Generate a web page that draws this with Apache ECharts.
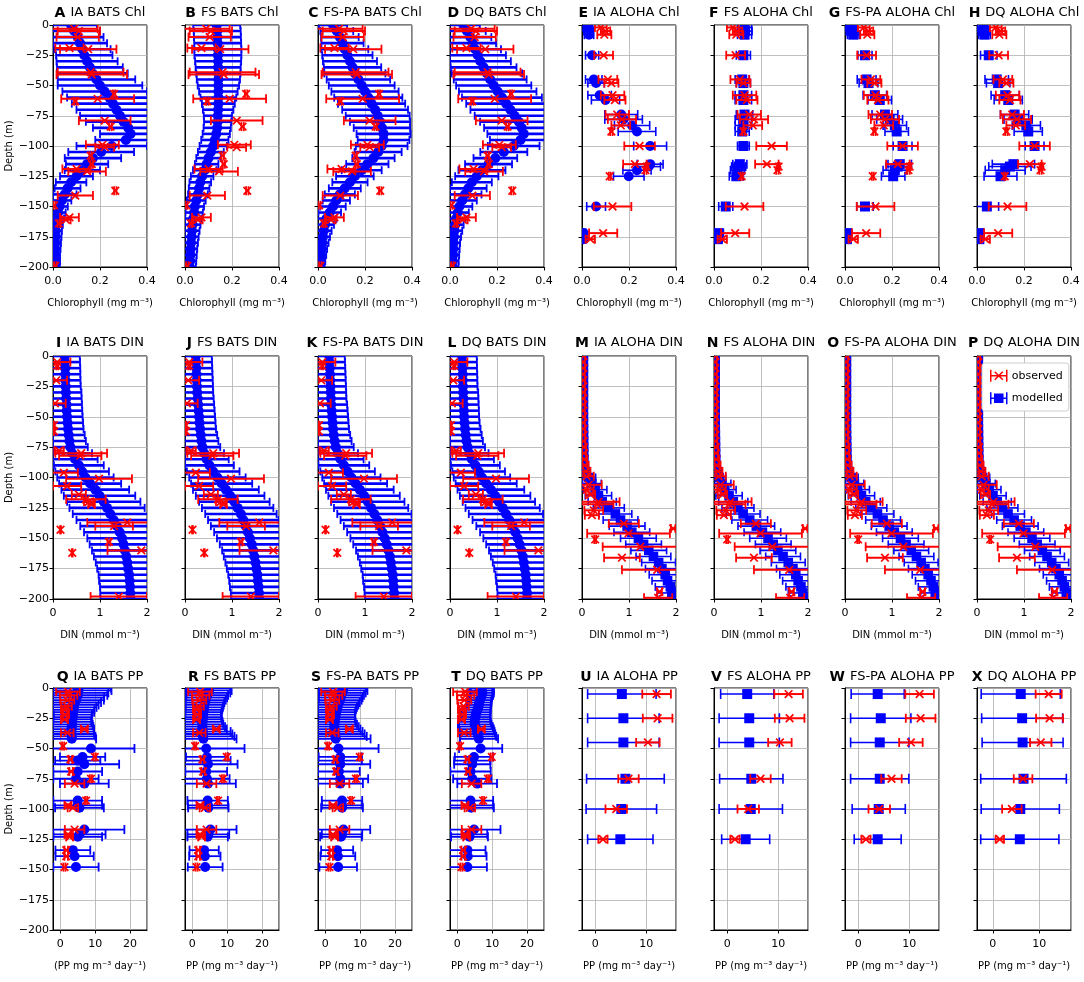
<!DOCTYPE html>
<html><head><meta charset="utf-8">
<script src="https://cdn.jsdelivr.net/npm/echarts@6/dist/echarts.min.js"></script>
<style>html,body{margin:0;padding:0;background:#fff}#c{width:1084px;height:982px}</style>
</head><body><div id="c"></div><script>
// ---------------- DATA ----------------
const DEPTH_5M = [0,-5,-10,-15,-20,-25,-30,-35,-40,-45,-50,-55,-60,-65,-70,-75,-80,-85,-90,-95,-100,-105,-110,-115,-120,-125,-130,-135,-140,-145,-150,-155,-160,-165,-170,-175,-180,-185,-190,-195,-200];

// BATS chlorophyll observed
const BATS_CHL_OBS_DEPTH = [-3,-5,-10,-19,-20,-39,-41,-57,-61,-63,-79,-84,-99,-101,-108,-115,-119,-121,-137,-141,-149,-159,-161,-164,-199];
const BATS_CHL_OBS_MEAN  = [0.09,0.11,0.105,0.07,0.15,0.16,0.165,0.26,0.19,0.095,0.22,0.245,0.21,0.22,0.16,0.165,0.10,0.145,0.265,0.095,0.005,0.07,0.055,0.025,0.01];
const BATS_CHL_OBS_ERR   = [0.1,0.09,0.09,0.06,0.12,0.14,0.15,0.005,0.155,0.005,0.11,0.005,0.07,0.04,0.005,0.005,0.06,0.08,0.005,0.075,0.005,0.04,0.02,0.005,0.005];
// BATS chlorophyll modelled
const IA_BATS_CHL_MEAN = [0.077,0.09,0.105,0.115,0.125,0.133,0.145,0.157,0.168,0.185,0.2,0.22,0.24,0.255,0.27,0.285,0.3,0.32,0.33,0.31,0.25,0.205,0.17,0.145,0.125,0.1,0.077,0.062,0.05,0.038,0.028,0.022,0.017,0.014,0.012,0.011,0.01,0.009,0.008,0.008,0.007];
const IA_BATS_CHL_SD   = [0.11,0.11,0.11,0.115,0.12,0.12,0.13,0.14,0.15,0.165,0.18,0.18,0.18,0.175,0.17,0.17,0.16,0.15,0.13,0.13,0.15,0.14,0.12,0.09,0.075,0.07,0.065,0.055,0.05,0.04,0.035,0.032,0.03,0.028,0.026,0.025,0.024,0.023,0.022,0.022,0.022];
const FS_BATS_CHL_MEAN = [0.135,0.137,0.138,0.139,0.14,0.14,0.141,0.141,0.142,0.142,0.142,0.142,0.142,0.142,0.141,0.14,0.139,0.137,0.133,0.127,0.12,0.11,0.1,0.092,0.084,0.073,0.065,0.06,0.055,0.048,0.042,0.039,0.035,0.032,0.03,0.028,0.026,0.024,0.023,0.022,0.021];
const FS_BATS_CHL_SD   = [0.1,0.1,0.1,0.1,0.1,0.1,0.098,0.096,0.094,0.092,0.088,0.082,0.076,0.07,0.065,0.06,0.058,0.058,0.058,0.058,0.058,0.055,0.052,0.05,0.05,0.048,0.046,0.044,0.042,0.04,0.039,0.037,0.035,0.034,0.032,0.03,0.029,0.028,0.027,0.026,0.025];
const FSPA_BATS_CHL_MEAN = [0.064,0.08,0.093,0.104,0.114,0.125,0.136,0.147,0.157,0.172,0.186,0.2,0.214,0.228,0.243,0.254,0.264,0.272,0.279,0.279,0.271,0.256,0.236,0.21,0.186,0.157,0.136,0.114,0.093,0.078,0.064,0.05,0.036,0.03,0.025,0.021,0.018,0.015,0.013,0.011,0.01];
const FSPA_BATS_CHL_SD   = [0.06,0.07,0.08,0.09,0.1,0.107,0.115,0.122,0.13,0.135,0.14,0.143,0.145,0.143,0.14,0.136,0.128,0.12,0.115,0.11,0.11,0.1,0.09,0.09,0.085,0.08,0.075,0.068,0.064,0.058,0.054,0.048,0.043,0.038,0.033,0.03,0.027,0.024,0.022,0.02,0.018];
const DQ_BATS_CHL_MEAN = [0.057,0.072,0.086,0.096,0.107,0.118,0.129,0.143,0.157,0.171,0.186,0.203,0.221,0.239,0.257,0.275,0.293,0.305,0.314,0.3,0.271,0.229,0.193,0.164,0.136,0.114,0.093,0.078,0.064,0.052,0.04,0.033,0.026,0.022,0.019,0.017,0.015,0.014,0.013,0.012,0.011];
const DQ_BATS_CHL_SD   = [0.07,0.08,0.09,0.1,0.11,0.12,0.13,0.14,0.15,0.155,0.16,0.165,0.17,0.17,0.17,0.17,0.165,0.16,0.155,0.13,0.11,0.1,0.093,0.1,0.1,0.092,0.085,0.078,0.07,0.062,0.055,0.047,0.04,0.036,0.033,0.03,0.028,0.027,0.026,0.025,0.025];

// ALOHA chlorophyll (observed and modelled at the same depths)
const ALOHA_CHL_DEPTH    = [-2,-5,-8,-25,-45,-48,-58,-62,-74,-78,-83,-88,-100,-115,-117,-120,-125,-150,-172,-177];
const ALOHA_CHL_OBS_MEAN = [0.08,0.1,0.095,0.092,0.11,0.125,0.13,0.14,0.15,0.17,0.165,0.125,0.245,0.225,0.275,0.27,0.118,0.13,0.09,0.035];
const ALOHA_CHL_OBS_ERR  = [0.025,0.02,0.03,0.04,0.04,0.03,0.05,0.045,0.05,0.06,0.04,0.005,0.065,0.05,0.005,0.005,0.004,0.08,0.06,0.02];
const IA_ALOHA_CHL_MEAN  = [0.025,0.028,0.03,0.043,0.05,0.06,0.075,0.1,0.167,0.177,0.213,0.234,0.29,0.29,0.284,0.234,0.199,0.06,0.007,0.007];
const IA_ALOHA_CHL_SD    = [0.02,0.02,0.02,0.028,0.035,0.035,0.05,0.06,0.07,0.08,0.075,0.08,0.07,0.055,0.05,0.06,0.065,0.04,0.01,0.01];
const FS_ALOHA_CHL_MEAN  = [0.13,0.132,0.13,0.125,0.12,0.125,0.125,0.125,0.13,0.125,0.125,0.12,0.125,0.11,0.105,0.1,0.095,0.05,0.02,0.015];
const FS_ALOHA_CHL_SD    = [0.03,0.03,0.03,0.03,0.03,0.03,0.035,0.035,0.035,0.035,0.035,0.03,0.025,0.03,0.03,0.03,0.03,0.03,0.02,0.02];
const FSPA_ALOHA_CHL_MEAN= [0.025,0.03,0.035,0.085,0.092,0.1,0.127,0.148,0.17,0.19,0.212,0.22,0.245,0.233,0.225,0.212,0.205,0.085,0.01,0.008];
const FSPA_ALOHA_CHL_SD  = [0.025,0.025,0.025,0.03,0.04,0.04,0.05,0.05,0.055,0.055,0.05,0.05,0.04,0.05,0.05,0.05,0.05,0.035,0.015,0.015];
const DQ_ALOHA_CHL_MEAN  = [0.028,0.03,0.032,0.05,0.084,0.09,0.12,0.133,0.16,0.175,0.21,0.218,0.245,0.155,0.14,0.12,0.1,0.042,0.011,0.01];
const DQ_ALOHA_CHL_SD    = [0.025,0.025,0.025,0.035,0.05,0.05,0.06,0.06,0.06,0.06,0.06,0.06,0.04,0.09,0.09,0.085,0.07,0.05,0.015,0.015];

// BATS DIN observed
const BATS_DIN_OBS_DEPTH = [-5,-8,-20,-39,-57,-62,-78,-80,-82,-96,-101,-107,-114,-118,-120,-122,-137,-140,-143,-153,-160,-162,-198];
const BATS_DIN_OBS_MEAN  = [0.09,0.09,0.07,0.04,0.02,0.02,0.13,0.6,0.58,0.23,0.98,0.3,0.55,0.7,0.76,0.82,1.58,1.3,0.16,1.19,1.88,0.41,1.4];
const BATS_DIN_OBS_ERR   = [0.28,0.02,0.23,0.23,0.01,0.01,0.1,0.55,0.45,0.3,0.7,0.3,0.15,0.42,0.1,0.07,0.85,0.4,0.01,0.03,0.72,0.01,0.6];
// BATS DIN modelled
const IA_BATS_DIN_MEAN = [0.25,0.255,0.26,0.262,0.265,0.27,0.275,0.28,0.287,0.293,0.3,0.31,0.32,0.335,0.35,0.37,0.41,0.47,0.55,0.62,0.69,0.79,0.9,0.99,1.08,1.15,1.22,1.29,1.36,1.42,1.47,1.5,1.53,1.56,1.58,1.6,1.62,1.63,1.64,1.645,1.65];
const IA_BATS_DIN_SD   = [0.32,0.32,0.32,0.32,0.32,0.32,0.33,0.33,0.33,0.33,0.33,0.33,0.33,0.34,0.35,0.37,0.42,0.48,0.53,0.57,0.6,0.66,0.72,0.76,0.78,0.8,0.8,0.79,0.78,0.76,0.74,0.72,0.7,0.69,0.67,0.66,0.65,0.65,0.64,0.64,0.64];
const FS_BATS_DIN_MEAN = [0.23,0.235,0.24,0.245,0.25,0.255,0.26,0.27,0.28,0.29,0.3,0.31,0.32,0.335,0.35,0.37,0.41,0.46,0.52,0.6,0.69,0.78,0.87,0.96,1.05,1.12,1.19,1.24,1.29,1.34,1.38,1.42,1.45,1.475,1.5,1.52,1.54,1.55,1.565,1.575,1.58];
const FS_BATS_DIN_SD   = [0.34,0.34,0.34,0.34,0.34,0.34,0.34,0.34,0.34,0.34,0.34,0.34,0.34,0.35,0.36,0.38,0.42,0.47,0.52,0.56,0.6,0.65,0.7,0.73,0.75,0.76,0.76,0.75,0.74,0.72,0.7,0.68,0.66,0.65,0.64,0.63,0.62,0.61,0.61,0.6,0.6];
const FSPA_BATS_DIN_MEAN = [0.24,0.245,0.25,0.255,0.26,0.265,0.27,0.275,0.28,0.29,0.3,0.31,0.32,0.335,0.355,0.38,0.42,0.48,0.55,0.63,0.71,0.8,0.89,0.98,1.06,1.13,1.2,1.26,1.32,1.37,1.42,1.46,1.5,1.53,1.55,1.57,1.59,1.6,1.61,1.62,1.63];
const FSPA_BATS_DIN_SD   = [0.33,0.33,0.33,0.33,0.33,0.33,0.33,0.33,0.34,0.34,0.34,0.34,0.34,0.35,0.36,0.38,0.43,0.49,0.54,0.58,0.62,0.67,0.72,0.76,0.78,0.79,0.79,0.78,0.77,0.75,0.73,0.71,0.69,0.68,0.66,0.65,0.64,0.64,0.63,0.63,0.63];
const DQ_BATS_DIN_MEAN = [0.26,0.262,0.265,0.27,0.272,0.275,0.28,0.285,0.29,0.295,0.3,0.31,0.32,0.335,0.35,0.375,0.41,0.465,0.54,0.61,0.68,0.77,0.87,0.96,1.04,1.12,1.19,1.26,1.33,1.39,1.44,1.48,1.52,1.55,1.57,1.59,1.61,1.62,1.63,1.64,1.64];
const DQ_BATS_DIN_SD   = [0.31,0.31,0.31,0.31,0.31,0.31,0.32,0.32,0.32,0.32,0.32,0.32,0.33,0.34,0.35,0.37,0.41,0.47,0.52,0.56,0.6,0.65,0.71,0.75,0.77,0.79,0.79,0.78,0.77,0.75,0.73,0.71,0.69,0.68,0.66,0.65,0.64,0.64,0.63,0.63,0.63];

// ALOHA DIN observed
const ALOHA_DIN_OBS_DEPTH = [0,-5,-10,-15,-20,-25,-30,-35,-40,-45,-50,-55,-60,-65,-70,-75,-80,-85,-90,-95,-99,-106,-110,-114,-120,-122,-127,-131,-138,-142,-146,-151,-157,-166,-176,-194,-199];
const ALOHA_DIN_OBS_MEAN  = [0.03,0.02,0.03,0.02,0.03,0.02,0.03,0.02,0.03,0.02,0.03,0.02,0.03,0.03,0.03,0.04,0.04,0.05,0.06,0.08,0.1,0.14,0.1,0.18,0.35,0.32,0.25,0.21,0.89,1.94,0.99,0.28,1.24,0.85,1.6,1.65,1.62];
const ALOHA_DIN_OBS_ERR   = [0.04,0.04,0.04,0.04,0.04,0.04,0.04,0.04,0.04,0.04,0.04,0.04,0.04,0.04,0.04,0.05,0.05,0.06,0.08,0.1,0.15,0.28,0.15,0.1,0.45,0.35,0.2,0.15,0.32,0.05,0.88,0.02,0.8,0.38,0.75,0.05,0.3];
// ALOHA DIN modelled
const IA_ALOHA_DIN_MEAN = [0.03,0.03,0.03,0.03,0.03,0.03,0.03,0.03,0.03,0.03,0.03,0.03,0.032,0.033,0.035,0.035,0.037,0.04,0.05,0.07,0.14,0.21,0.28,0.35,0.43,0.57,0.71,0.82,0.96,1.06,1.2,1.31,1.42,1.52,1.63,1.7,1.77,1.82,1.88,1.91,1.95];
const IA_ALOHA_DIN_SD   = [0.03,0.03,0.03,0.03,0.03,0.03,0.03,0.03,0.03,0.03,0.03,0.03,0.03,0.03,0.03,0.03,0.03,0.05,0.07,0.1,0.15,0.2,0.25,0.28,0.3,0.33,0.35,0.37,0.38,0.38,0.38,0.38,0.38,0.37,0.36,0.35,0.34,0.33,0.32,0.31,0.3];
const FS_ALOHA_DIN_MEAN = [0.025,0.025,0.025,0.025,0.025,0.025,0.025,0.025,0.025,0.025,0.025,0.025,0.027,0.028,0.03,0.031,0.033,0.037,0.045,0.065,0.11,0.17,0.23,0.32,0.41,0.51,0.62,0.76,0.9,1.03,1.15,1.26,1.36,1.47,1.58,1.68,1.74,1.79,1.85,1.89,1.93];
const FS_ALOHA_DIN_SD   = [0.03,0.03,0.03,0.03,0.03,0.03,0.03,0.03,0.03,0.03,0.03,0.03,0.03,0.03,0.03,0.03,0.03,0.04,0.06,0.09,0.14,0.19,0.24,0.28,0.31,0.34,0.36,0.38,0.39,0.39,0.39,0.38,0.38,0.37,0.36,0.35,0.34,0.33,0.32,0.31,0.3];
const FSPA_ALOHA_DIN_MEAN = [0.03,0.03,0.03,0.03,0.03,0.03,0.03,0.03,0.03,0.03,0.03,0.03,0.031,0.032,0.034,0.036,0.038,0.042,0.052,0.075,0.13,0.2,0.27,0.35,0.44,0.56,0.69,0.81,0.94,1.05,1.18,1.3,1.41,1.52,1.62,1.7,1.77,1.83,1.88,1.92,1.96];
const FSPA_ALOHA_DIN_SD   = [0.03,0.03,0.03,0.03,0.03,0.03,0.03,0.03,0.03,0.03,0.03,0.03,0.03,0.03,0.03,0.03,0.03,0.05,0.07,0.1,0.15,0.2,0.25,0.28,0.31,0.33,0.35,0.37,0.38,0.38,0.38,0.38,0.37,0.37,0.36,0.35,0.34,0.33,0.32,0.31,0.3];
const DQ_ALOHA_DIN_MEAN = [0.028,0.028,0.028,0.028,0.028,0.028,0.028,0.028,0.028,0.028,0.028,0.028,0.03,0.031,0.033,0.034,0.036,0.04,0.048,0.07,0.12,0.19,0.26,0.34,0.43,0.54,0.66,0.79,0.92,1.04,1.17,1.28,1.39,1.49,1.59,1.68,1.75,1.81,1.86,1.9,1.94];
const DQ_ALOHA_DIN_SD   = [0.03,0.03,0.03,0.03,0.03,0.03,0.03,0.03,0.03,0.03,0.03,0.03,0.03,0.03,0.03,0.03,0.03,0.05,0.07,0.1,0.15,0.2,0.25,0.28,0.3,0.33,0.35,0.37,0.38,0.38,0.38,0.38,0.38,0.37,0.36,0.35,0.34,0.33,0.32,0.31,0.3];

// BATS primary production observed
const BATS_PP_OBS_DEPTH = [-3,-6,-10,-15,-18,-22,-26,-34,-37,-48,-57,-59,-69,-75,-79,-93,-97,-99,-117,-121,-123,-134,-139,-148];
const BATS_PP_OBS_MEAN  = [2.2,2.4,2.0,1.8,1.2,1.5,1.2,6.9,2.0,0.8,9.9,2.9,3.1,8.8,4.1,7.4,2.2,3.6,4.1,2.2,2.7,1.7,1.7,1.2];
const BATS_PP_OBS_ERR   = [3.4,2.5,2.0,1.5,1.0,1.0,1.0,1.0,1.8,0.3,0.3,0.5,0.5,0.3,2.8,0.3,1.0,1.5,2.8,1.0,1.0,0.5,0.5,0.3];
// BATS primary production modelled
const BATS_PP_MODEL_DEPTH = [0,-2,-4,-6,-8,-10,-12,-14,-16,-18,-20,-22,-24,-26,-28,-30,-32,-34,-36,-38,-40,-42,-50,-57,-60,-63,-69,-75,-79,-93,-97,-99,-117,-121,-123,-134,-139,-148];
const IA_BATS_PP_MEAN = [5.0,5.2,4.8,5.0,4.6,4.5,4.2,4.0,3.9,3.8,3.7,3.6,3.5,3.5,3.4,3.3,3.3,3.2,3.2,3.2,3.3,3.3,8.8,6.4,5.0,6.9,5.0,4.5,6.9,5.0,5.0,5.5,6.9,5.5,5.0,3.6,4.1,4.5];
const IA_BATS_PP_SD   = [9.5,9.5,9.0,8.5,8.0,8.0,7.5,7.0,6.5,6.0,6.0,5.5,5.5,5.5,5.5,6.0,6.2,6.5,6.5,6.5,6.8,7.0,12.5,6.5,6.5,10.0,7.0,6.5,7.0,7.0,7.0,7.0,11.5,7.5,7.0,5.0,5.5,6.5];
const FS_BATS_PP_MEAN = [4.5,4.8,4.6,4.3,4.0,3.8,3.6,3.5,3.4,3.3,3.2,3.1,3.0,3.0,2.9,2.9,2.9,2.9,3.0,3.0,3.1,3.2,4.0,4.2,4.0,4.5,4.0,4.2,4.5,4.4,4.5,4.6,5.2,4.6,4.4,3.4,3.6,3.7];
const FS_BATS_PP_SD   = [6.5,6.5,6.3,6.0,6.0,5.8,5.6,5.5,5.4,5.3,5.2,5.2,5.3,5.5,5.8,6.0,6.5,7.0,8.0,8.5,9.0,9.5,11.0,6.0,7.0,8.5,6.0,6.5,8.0,5.8,5.8,5.8,7.5,6.0,5.8,4.2,4.5,5.0];
const FSPA_BATS_PP_MEAN = [4.9,5.1,4.8,4.6,4.4,4.2,3.9,3.7,3.5,3.3,3.1,3.0,2.9,2.8,2.7,2.6,2.6,2.6,2.7,2.8,2.9,3.0,3.8,4.3,4.0,4.3,3.9,4.3,4.3,4.8,4.8,4.8,5.2,4.8,4.5,3.4,3.6,3.7];
const FSPA_BATS_PP_SD   = [7.0,7.0,6.8,6.5,6.3,6.2,6.0,5.8,5.6,5.5,5.5,5.5,5.6,5.8,6.0,6.5,7.0,7.5,8.0,8.5,9.0,10.0,11.5,6.2,6.5,8.6,6.0,8.0,6.5,5.8,5.8,6.0,7.7,5.8,6.0,4.6,5.0,5.4];
const DQ_BATS_PP_MEAN = [6.5,7.0,7.2,7.0,6.8,6.5,6.3,6.2,6.0,5.8,5.5,5.3,5.2,5.0,5.0,5.0,5.2,5.5,5.7,5.9,6.0,6.2,6.7,4.8,4.3,4.3,3.8,4.3,5.7,3.8,3.8,4.0,4.8,3.3,3.5,2.9,3.0,2.9];
const DQ_BATS_PP_SD   = [3.5,3.5,3.3,3.3,3.2,3.3,3.5,3.5,3.6,3.8,4.0,4.2,4.3,4.5,4.6,4.8,5.0,5.0,5.0,5.0,5.2,5.5,6.2,5.5,5.2,5.2,5.8,5.5,5.7,6.5,6.5,6.5,7.6,5.3,5.3,5.2,5.4,5.6];

// ALOHA primary production
const ALOHA_PP_DEPTH    = [-5,-25,-45,-75,-100,-125];
const ALOHA_PP_OBS_MEAN = [12.0,12.2,10.3,6.5,4.1,1.5];
const ALOHA_PP_OBS_ERR  = [2.8,2.9,2.3,2.0,2.1,0.9];
const IA_ALOHA_PP_MEAN  = [5.2,5.5,5.5,5.9,5.1,4.9];
const IA_ALOHA_PP_SD    = [6.7,7.0,7.0,7.6,6.9,6.4];
const FS_ALOHA_PP_MEAN  = [3.9,4.3,4.3,4.7,4.6,3.6];
const FS_ALOHA_PP_SD    = [5.2,5.9,5.9,6.2,6.2,4.7];
const FSPA_ALOHA_PP_MEAN= [3.8,4.4,4.2,4.2,4.0,3.8];
const FSPA_ALOHA_PP_SD  = [5.2,5.9,5.7,5.7,5.2,4.6];
const DQ_ALOHA_PP_MEAN  = [6.0,6.3,6.4,6.6,5.9,5.8];
const DQ_ALOHA_PP_SD    = [8.5,8.7,8.7,9.2,8.4,8.4];

const DEPTH_TICKS = {min:-200, max:0, interval:25};

// ---------------- LAYOUT / STYLE ----------------
const FONT = 'DejaVu Sans';
const ROW_TOP = [25, 356, 688];
const ROW_H = [242, 243, 242];
const TITLE_TOP = [4, 334, 668];
const COL_LEFT = [53, 185, 318, 450, 582, 714, 845, 977];
const COL_W = 94;
const RED = '#ff0000', BLUE = '#0000ff';

const OBS = {
  bchl: [BATS_CHL_OBS_DEPTH, BATS_CHL_OBS_MEAN, BATS_CHL_OBS_ERR],
  achl: [ALOHA_CHL_DEPTH, ALOHA_CHL_OBS_MEAN, ALOHA_CHL_OBS_ERR],
  bdin: [BATS_DIN_OBS_DEPTH, BATS_DIN_OBS_MEAN, BATS_DIN_OBS_ERR],
  adin: [ALOHA_DIN_OBS_DEPTH, ALOHA_DIN_OBS_MEAN, ALOHA_DIN_OBS_ERR],
  bpp: [BATS_PP_OBS_DEPTH, BATS_PP_OBS_MEAN, BATS_PP_OBS_ERR],
  app: [ALOHA_PP_DEPTH, ALOHA_PP_OBS_MEAN, ALOHA_PP_OBS_ERR]
};
const SUP3 = '\u207B\u00B3', SUP1 = '\u207B\u00B9';
const AX = {
  chl: {min:0, max:0.4, interval:0.2, name:'Chlorophyll (mg m' + SUP3 + ')', fmt: v => v.toFixed(1)},
  din: {min:0, max:2, interval:1, name:'DIN (mmol m' + SUP3 + ')', fmt: v => String(v)},
  bpp: {min:-2.1, max:24.9, step:10, name:'PP (mg m' + SUP3 + ' day' + SUP1 + ')', fmt: v => String(v)},
  app: {min:-2.6, max:15.8, step:10, name:'PP (mg m' + SUP3 + ' day' + SUP1 + ')', fmt: v => String(v)},
  appx:{min:-3.4, max:16.8, step:10, name:'PP (mg m' + SUP3 + ' day' + SUP1 + ')', fmt: v => String(v)}
};

// letter, title, row, col, x-axis kind, observed set, model depth, model mean, model sd, marker, band
const P = [
  ['A','IA BATS Chl',0,0,'chl','bchl',DEPTH_5M,IA_BATS_CHL_MEAN,IA_BATS_CHL_SD,'circle','band'],
  ['B','FS BATS Chl',0,1,'chl','bchl',DEPTH_5M,FS_BATS_CHL_MEAN,FS_BATS_CHL_SD,'circle','band'],
  ['C','FS-PA BATS Chl',0,2,'chl','bchl',DEPTH_5M,FSPA_BATS_CHL_MEAN,FSPA_BATS_CHL_SD,'circle','band'],
  ['D','DQ BATS Chl',0,3,'chl','bchl',DEPTH_5M,DQ_BATS_CHL_MEAN,DQ_BATS_CHL_SD,'circle','band'],
  ['E','IA ALOHA Chl',0,4,'chl','achl',ALOHA_CHL_DEPTH,IA_ALOHA_CHL_MEAN,IA_ALOHA_CHL_SD,'circle','pts'],
  ['F','FS ALOHA Chl',0,5,'chl','achl',ALOHA_CHL_DEPTH,FS_ALOHA_CHL_MEAN,FS_ALOHA_CHL_SD,'square','pts'],
  ['G','FS-PA ALOHA Chl',0,6,'chl','achl',ALOHA_CHL_DEPTH,FSPA_ALOHA_CHL_MEAN,FSPA_ALOHA_CHL_SD,'square','pts'],
  ['H','DQ ALOHA Chl',0,7,'chl','achl',ALOHA_CHL_DEPTH,DQ_ALOHA_CHL_MEAN,DQ_ALOHA_CHL_SD,'square','pts'],
  ['I','IA BATS DIN',1,0,'din','bdin',DEPTH_5M,IA_BATS_DIN_MEAN,IA_BATS_DIN_SD,'circle','band'],
  ['J','FS BATS DIN',1,1,'din','bdin',DEPTH_5M,FS_BATS_DIN_MEAN,FS_BATS_DIN_SD,'circle','band'],
  ['K','FS-PA BATS DIN',1,2,'din','bdin',DEPTH_5M,FSPA_BATS_DIN_MEAN,FSPA_BATS_DIN_SD,'circle','band'],
  ['L','DQ BATS DIN',1,3,'din','bdin',DEPTH_5M,DQ_BATS_DIN_MEAN,DQ_BATS_DIN_SD,'circle','band'],
  ['M','IA ALOHA DIN',1,4,'din','adin',DEPTH_5M,IA_ALOHA_DIN_MEAN,IA_ALOHA_DIN_SD,'square','dense'],
  ['N','FS ALOHA DIN',1,5,'din','adin',DEPTH_5M,FS_ALOHA_DIN_MEAN,FS_ALOHA_DIN_SD,'square','dense'],
  ['O','FS-PA ALOHA DIN',1,6,'din','adin',DEPTH_5M,FSPA_ALOHA_DIN_MEAN,FSPA_ALOHA_DIN_SD,'square','dense'],
  ['P','DQ ALOHA DIN',1,7,'din','adin',DEPTH_5M,DQ_ALOHA_DIN_MEAN,DQ_ALOHA_DIN_SD,'square','dense'],
  ['Q','IA BATS PP',2,0,'bpp','bpp',BATS_PP_MODEL_DEPTH,IA_BATS_PP_MEAN,IA_BATS_PP_SD,'circle','bpp'],
  ['R','FS BATS PP',2,1,'bpp','bpp',BATS_PP_MODEL_DEPTH,FS_BATS_PP_MEAN,FS_BATS_PP_SD,'circle','bpp'],
  ['S','FS-PA BATS PP',2,2,'bpp','bpp',BATS_PP_MODEL_DEPTH,FSPA_BATS_PP_MEAN,FSPA_BATS_PP_SD,'circle','bpp'],
  ['T','DQ BATS PP',2,3,'bpp','bpp',BATS_PP_MODEL_DEPTH,DQ_BATS_PP_MEAN,DQ_BATS_PP_SD,'circle','bpp'],
  ['U','IA ALOHA PP',2,4,'app','app',ALOHA_PP_DEPTH,IA_ALOHA_PP_MEAN,IA_ALOHA_PP_SD,'square','app'],
  ['V','FS ALOHA PP',2,5,'app','app',ALOHA_PP_DEPTH,FS_ALOHA_PP_MEAN,FS_ALOHA_PP_SD,'square','app'],
  ['W','FS-PA ALOHA PP',2,6,'app','app',ALOHA_PP_DEPTH,FSPA_ALOHA_PP_MEAN,FSPA_ALOHA_PP_SD,'square','app'],
  ['X','DQ ALOHA PP',2,7,'appx','app',ALOHA_PP_DEPTH,DQ_ALOHA_PP_MEAN,DQ_ALOHA_PP_SD,'square','app']
];

const OBS_STYLE = {color:RED, lw:2, cap:4.5, mk:'x', size:3.8, mlw:1.7};
const MOD_STYLES = {
  band:  {lw:2.6, cap:4, size:5},
  pts:   {lw:1.6, cap:4.5, size:5},
  dense: {lw:1.6, cap:4, size:4.8},
  bpp:   {lw:1.8, cap:4.5, size:5},
  app:   {lw:1.6, cap:5, size:5}
};

function errSeries(name, gi, depth, mean, err, st) {
  const data = depth.map((d, i) => [mean[i], d, err[i]]);
  return {
    type: 'custom', name, xAxisIndex: gi, yAxisIndex: gi, data, clip: true, silent: true,
    itemStyle: {color: st.color}, encode: {x: 0, y: 1},
    renderItem(params, api) {
      const cs = params.coordSys;
      const m = api.value(0), d = api.value(1), e = api.value(2);
      const c = api.coord([m, d]), l = api.coord([m - e, d]), r = api.coord([m + e, d]);
      const x0 = cs.x, x1 = cs.x + cs.width, y0 = cs.y, y1 = cs.y + cs.height;
      const y = c[1];
      const ch = [];
      const ls = {stroke: st.color, lineWidth: st.lw, fill: null};
      const lx = Math.max(l[0], x0), rx = Math.min(r[0], x1);
      if (rx > lx) ch.push({type: 'line', shape: {x1: lx, y1: y, x2: rx, y2: y}, style: ls});
      const ct = Math.max(y - st.cap, y0), cb = Math.min(y + st.cap, y1);
      const cs2 = {stroke: st.color, lineWidth: Math.min(st.lw, 1.8), fill: null};
      [l[0], r[0]].forEach(px => {
        if (px >= x0 - 0.5 && px <= x1 + 0.5) ch.push({type: 'line', shape: {x1: px, y1: ct, x2: px, y2: cb}, style: cs2});
      });
      const s = st.size, cx = c[0];
      if (cx >= x0 - s && cx <= x1 + s) {
        if (st.mk === 'x') {
          const ms = {stroke: st.color, lineWidth: st.mlw, fill: null};
          ch.push({type: 'line', shape: {x1: cx - s, y1: y - s, x2: cx + s, y2: y + s}, style: ms});
          ch.push({type: 'line', shape: {x1: cx - s, y1: y + s, x2: cx + s, y2: y - s}, style: ms});
        } else if (st.mk === 'circle') {
          ch.push({type: 'circle', shape: {cx, cy: y, r: s}, style: {fill: st.color}});
        } else {
          ch.push({type: 'rect', shape: {x: cx - s, y: y - s, width: 2 * s, height: 2 * s}, style: {fill: st.color}});
        }
      }
      return {type: 'group', children: ch};
    }
  };
}

const grid = [], xAxis = [], yAxis = [], series = [], title = [];
const minus = v => (v < 0 ? '\u2212' + String(-v) : String(v));

P.forEach((p, gi) => {
  const [letter, ttl, row, col, axk, obsk, md, mm, ms, mk, band] = p;
  const ax = AX[axk];
  grid.push({left: COL_LEFT[col], top: ROW_TOP[row], width: COL_W, height: ROW_H[row],
    show: true, borderColor: '#000', borderWidth: 1, backgroundColor: '#fff', containLabel: false, outerBoundsMode: 'none'});
  const xa = {
    gridIndex: gi, type: 'value', min: ax.min, max: ax.max, position: 'bottom',
    axisLine: {show: true, onZero: false, lineStyle: {color: '#000', width: 1}},
    axisTick: {show: true, length: 3.5, lineStyle: {color: '#000'}},
    axisLabel: {fontFamily: FONT, fontSize: 11, color: '#000', margin: 9, formatter: v => (v < 0 ? '\u2212' + ax.fmt(-v) : ax.fmt(v)),
      showMinLabel: ax.step ? false : true, showMaxLabel: ax.step ? false : true},
    splitLine: {show: true, lineStyle: {color: '#b0b0b0', width: 0.8}},
    name: (letter === 'Q') ? '(PP mg m' + SUP3 + ' day' + SUP1 + ')' : ax.name,
    nameLocation: 'middle', nameGap: 31,
    nameTextStyle: {fontFamily: FONT, fontSize: 10, color: '#000'}
  };
  if (ax.interval) xa.interval = ax.interval;
  if (ax.step) { xa.minInterval = ax.step; xa.maxInterval = ax.step; }
  xAxis.push(xa);
  yAxis.push({
    gridIndex: gi, type: 'value', min: DEPTH_TICKS.min, max: DEPTH_TICKS.max, interval: DEPTH_TICKS.interval,
    axisLine: {show: true, onZero: false, lineStyle: {color: '#000', width: 1}},
    axisTick: {show: true, length: 3.5, lineStyle: {color: '#000'}},
    axisLabel: {show: col === 0, fontFamily: FONT, fontSize: 11, color: '#000', margin: 4, formatter: minus},
    splitLine: {show: true, lineStyle: {color: '#b0b0b0', width: 0.8}},
    name: col === 0 ? 'Depth (m)' : '', nameLocation: 'middle', nameGap: 36,
    nameTextStyle: {fontFamily: FONT, fontSize: 10, color: '#000'}
  });
  title.push({
    text: '{b|' + letter + '} {n|' + ttl + '}',
    left: COL_LEFT[col] + COL_W / 2, top: TITLE_TOP[row], textAlign: 'center', padding: 0,
    textStyle: {fontWeight: 'normal', rich: {
      b: {fontFamily: FONT, fontSize: 14, fontWeight: 'bold', color: '#000'},
      n: {fontFamily: FONT, fontSize: 13, fontWeight: 'normal', color: '#000'}
    }}
  });
  const st = Object.assign({color: BLUE, mk}, MOD_STYLES[band]);
  series.push(errSeries('modelled', gi, md, mm, ms, st));
  const o = OBS[obsk];
  series.push(errSeries('observed', gi, o[0], o[1], o[2], OBS_STYLE));
});

const OBS_ICON = 'path://M1,1L1,13M1,7L17,7M17,1L17,13M5,3L13,11M13,3L5,11';
const MOD_ICON = 'path://M1,1L1,13M1,7L17,7M17,1L17,13M5,3L13,3L13,11L5,11Z';

const chart = echarts.init(document.getElementById('c'), null, {renderer: 'canvas'});
chart.setOption({
  backgroundColor: '#fff',
  animation: false,
  title, grid, xAxis, yAxis, series,
  legend: {
    left: 982, top: 363, orient: 'vertical', itemGap: 9, itemWidth: 16, itemHeight: 12,
    padding: [6, 6, 6, 8], backgroundColor: '#fff', borderColor: '#cccccc', borderWidth: 1, borderRadius: 3,
    selectedMode: false,
    textStyle: {fontFamily: FONT, fontSize: 11, color: '#000'},
    data: [
      {name: 'observed', icon: OBS_ICON, itemStyle: {color: RED, borderColor: RED, borderWidth: 1.5}},
      {name: 'modelled', icon: MOD_ICON, itemStyle: {color: BLUE, borderColor: BLUE, borderWidth: 1.5}}
    ]
  }
});
</script></body></html>
